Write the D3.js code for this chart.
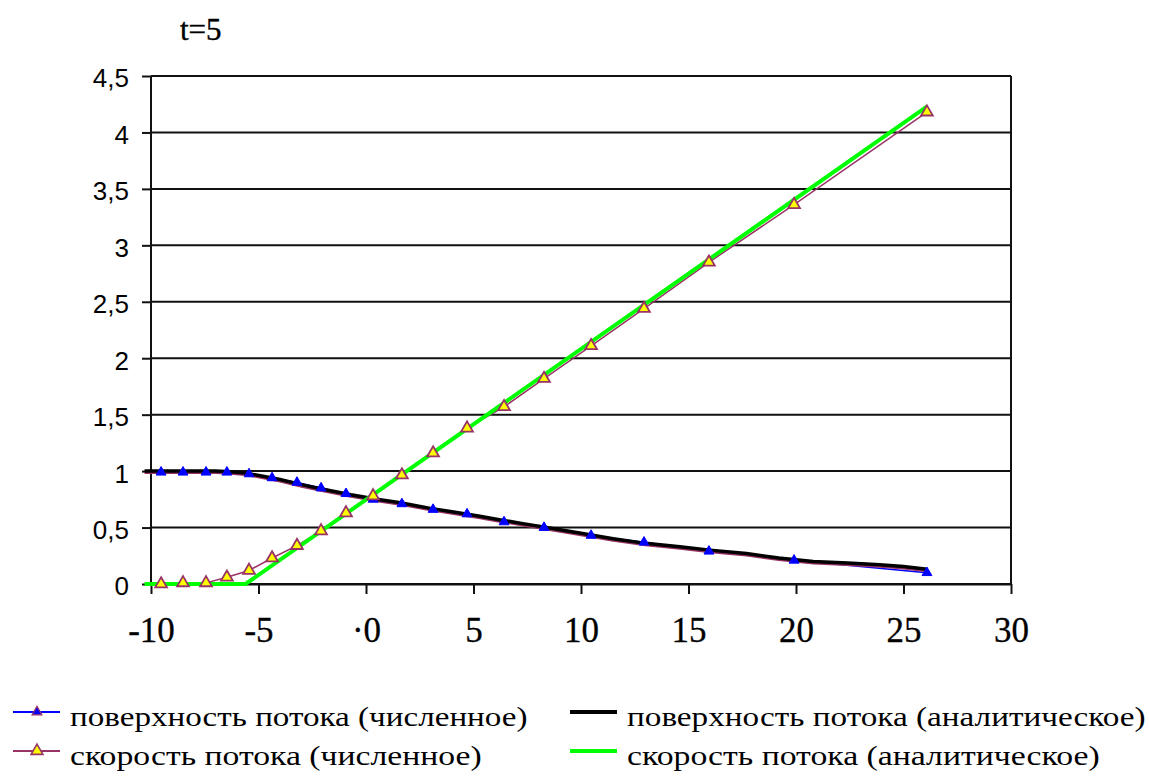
<!DOCTYPE html>
<html>
<head>
<meta charset="utf-8">
<script src="https://cdn.jsdelivr.net/npm/d3@7"></script>
<style>
  html, body { margin: 0; padding: 0; background: #ffffff; }
  svg { display: block; }
</style>
</head>
<body>
<svg id="chart" width="1149" height="780"></svg>
<script>
// ---------- data ----------
const title = "t=5";

// numerical solution nodes
const xNum = [-9.53, -8.51, -7.44, -6.47, -5.44, -4.37, -3.21, -2.09, -0.93, 0.33,
              1.67, 3.12, 4.70, 6.42, 8.28, 10.47, 12.93, 15.95, 19.91, 26.09];
const surfaceNum = [0.99, 0.99, 0.99, 0.99, 0.975, 0.94, 0.90, 0.85, 0.80, 0.75,
                    0.71, 0.66, 0.62, 0.55, 0.50, 0.43, 0.37, 0.29, 0.21, 0.10];
const velocityNum = [0.0, 0.01, 0.01, 0.06, 0.12, 0.23, 0.34, 0.47, 0.63, 0.78,
                     0.965, 1.16, 1.38, 1.57, 1.82, 2.11, 2.44, 2.85, 3.36, 4.18];

// analytical surface
const xSurfaceAna = [-10.3, -7, -6.3, -5.5, -4, -3, -2, -0.7, 0.5, 1.6, 3, 4, 5.3, 6.2, 7.3,
                     8.4, 10, 11.5, 13, 14.6, 16, 17.7, 19.2, 20.8, 22.4, 23.9, 25, 26.1];
const surfaceAna = [1.0, 1.0, 0.995, 0.98, 0.925, 0.88, 0.84, 0.79, 0.75, 0.72, 0.67, 0.64, 0.60, 0.57, 0.535,
                    0.50, 0.45, 0.40, 0.36, 0.33, 0.30, 0.27, 0.23, 0.20, 0.185, 0.17, 0.155, 0.13];

// analytical velocity
const xVelocityAna = [-10.3, -5.6, 26.1];
const velocityAna = [0, 0, 4.23];

// axes
const xTicks = [-10, -5, 0, 5, 10, 15, 20, 25, 30];
const xTickLabels = ["-10", "-5", "·0", "5", "10", "15", "20", "25", "30"];
const yTicks = [0, 0.5, 1, 1.5, 2, 2.5, 3, 3.5, 4, 4.5];
const yTickLabels = ["0", "0,5", "1", "1,5", "2", "2,5", "3", "3,5", "4", "4,5"];

const seriesNames = [
  "поверхность потока (численное)",
  "поверхность потока (аналитическое)",
  "скорость потока (численное)",
  "скорость потока (аналитическое)"
];

// ---------- drawing ----------
(function () {
const svg = d3.select("#chart");
const pLeft = 151, pRight = 1011, pTop = 76, pBottom = 584;

const x = d3.scaleLinear().domain([-10, 30]).range([pLeft, pRight]);
const y = d3.scaleLinear().domain([0, 4.5]).range([pBottom, pTop]);

const BLUE = "#0000ff", MAUVE = "#993366", YELLOW = "#ffff00", GREEN = "#00ff00";

// title
svg.append("text")
  .attr("x", 180).attr("y", 40)
  .attr("font-family", "'Liberation Serif', 'Times New Roman', serif")
  .attr("font-size", 31)
  .attr("fill", "#000")
  .attr("stroke", "#000").attr("stroke-width", 0.4)
  .text(title);

// grid lines
svg.append("g").selectAll("line").data(yTicks).join("line")
  .attr("x1", pLeft).attr("x2", pRight)
  .attr("y1", d => y(d)).attr("y2", d => y(d))
  .attr("stroke", "#111").attr("stroke-width", 2);

// y axis
const yAxis = d3.axisLeft(y).tickValues(yTicks)
  .tickFormat((d, i) => yTickLabels[i])
  .tickSizeInner(9).tickSizeOuter(0).tickPadding(13);
const gy = svg.append("g").attr("transform", `translate(${pLeft},0)`).call(yAxis);
gy.select(".domain").remove();
gy.selectAll(".tick line").attr("stroke", "#111").attr("stroke-width", 2);
gy.selectAll(".tick text")
  .attr("font-family", "'Liberation Sans', Arial, sans-serif")
  .attr("font-size", 26).attr("fill", "#000")
  .attr("dy", "0.42em");

// x axis
const xAxis = d3.axisBottom(x).tickValues(xTicks)
  .tickFormat((d, i) => xTickLabels[i])
  .tickSizeInner(10).tickSizeOuter(0);
const gx = svg.append("g").attr("transform", `translate(0,${pBottom})`).call(xAxis);
gx.select(".domain").attr("stroke", "#111").attr("stroke-width", 2);
gx.selectAll(".tick line").attr("stroke", "#111").attr("stroke-width", 2);
gx.selectAll(".tick text")
  .attr("font-family", "'Liberation Serif', 'Times New Roman', serif")
  .attr("font-size", 35).attr("fill", "#000")
  .attr("stroke", "#000").attr("stroke-width", 0.3)
  .attr("y", 58).attr("dy", 0);

// left axis and right border
svg.append("g").selectAll("line").data([-10, 30]).join("line")
  .attr("x1", d => x(d)).attr("x2", d => x(d))
  .attr("y1", y(4.5)).attr("y2", y(0))
  .attr("stroke", "#111").attr("stroke-width", 2);

const line = d3.line().x(d => x(d[0])).y(d => y(d[1]));

const surfNumPts = xNum.map((v, i) => [v, surfaceNum[i]]);
const velNumPts = xNum.map((v, i) => [v, velocityNum[i]]);
const surfAnaPts = xSurfaceAna.map((v, i) => [v, surfaceAna[i]]);
const velAnaPts = xVelocityAna.map((v, i) => [v, velocityAna[i]]);

// numerical surface line (blue, mostly hidden)
svg.append("path").datum(surfNumPts).attr("d", line)
  .attr("fill", "none").attr("stroke", BLUE).attr("stroke-width", 1.5);

// analytical surface: mauve fringe + black line
svg.append("path").datum(surfAnaPts).attr("d", line)
  .attr("transform", "translate(0,2)")
  .attr("fill", "none").attr("stroke", MAUVE).attr("stroke-width", 2);
svg.append("path").datum(surfAnaPts).attr("d", line)
  .attr("fill", "none").attr("stroke", "#000").attr("stroke-width", 3.5);

// numerical velocity line (mauve)
svg.append("path").datum(velNumPts).attr("d", line)
  .attr("fill", "none").attr("stroke", MAUVE).attr("stroke-width", 1.5);

// analytical velocity line (green)
svg.append("path").datum(velAnaPts).attr("d", line)
  .attr("fill", "none").attr("stroke", GREEN).attr("stroke-width", 4);

// markers
const triBlue = d3.symbol().type(d3.symbolTriangle).size(42);
const triYellow = d3.symbol().type(d3.symbolTriangle).size(60);

svg.append("g").selectAll("path").data(surfNumPts).join("path")
  .attr("d", triBlue)
  .attr("transform", d => `translate(${x(d[0])},${y(d[1])})`)
  .attr("fill", BLUE).attr("stroke", BLUE).attr("stroke-width", 1);

svg.append("g").selectAll("path").data(velNumPts).join("path")
  .attr("d", triYellow)
  .attr("transform", d => `translate(${x(d[0])},${y(d[1])})`)
  .attr("fill", YELLOW).attr("stroke", MAUVE).attr("stroke-width", 1.8);

// ---------- legend ----------
const legendItems = [
  { name: seriesNames[0], col: 0, row: 0, stroke: BLUE, sw: 2, marker: "blue" },
  { name: seriesNames[1], col: 1, row: 0, stroke: "#000", sw: 4, marker: null },
  { name: seriesNames[2], col: 0, row: 1, stroke: MAUVE, sw: 2, marker: "yellow" },
  { name: seriesNames[3], col: 1, row: 1, stroke: GREEN, sw: 4, marker: null }
];
const colX = [13, 570];
const rowY = [712, 751];

const lg = svg.append("g");
legendItems.forEach(it => {
  const x0 = colX[it.col], yy = rowY[it.row];
  lg.append("line")
    .attr("x1", x0).attr("x2", x0 + 47)
    .attr("y1", yy).attr("y2", yy)
    .attr("stroke", it.stroke).attr("stroke-width", it.sw);
  if (it.marker === "blue") {
    lg.append("path").attr("d", triBlue)
      .attr("transform", `translate(${x0 + 24},${yy})`)
      .attr("fill", BLUE).attr("stroke", MAUVE).attr("stroke-width", 1.2);
  } else if (it.marker === "yellow") {
    lg.append("path").attr("d", triYellow)
      .attr("transform", `translate(${x0 + 24},${yy})`)
      .attr("fill", YELLOW).attr("stroke", MAUVE).attr("stroke-width", 1.6);
  }
  lg.append("text")
    .attr("x", x0 + 57).attr("y", yy + 14)
    .attr("font-family", "'Liberation Serif', 'Times New Roman', serif")
    .attr("font-size", 27)
    .attr("textLength", it.name.length * 15.25)
    .attr("lengthAdjust", "spacingAndGlyphs")
    .attr("fill", "#000")
    .text(it.name);
});
})();
</script>
</body>
</html>
